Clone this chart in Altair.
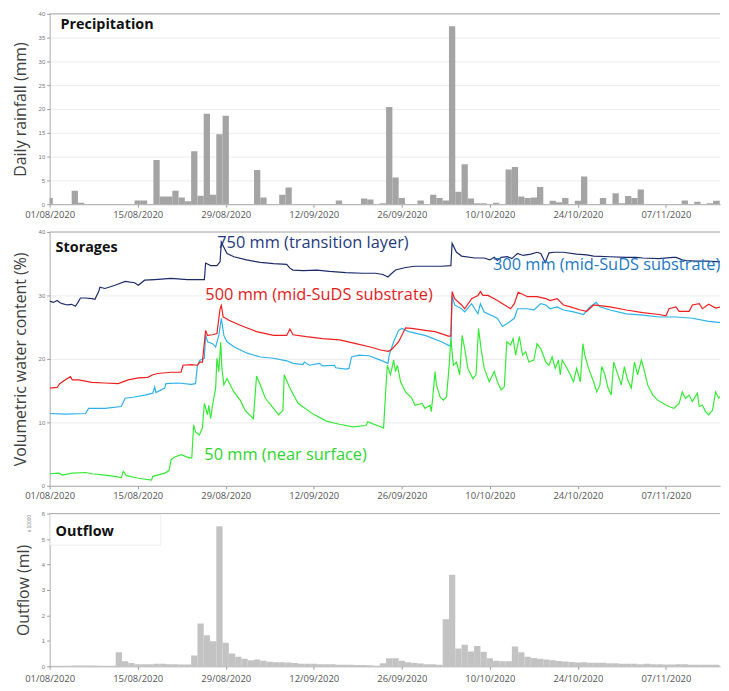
import altair as alt
import pandas as pd

DAY = 86400000
START = int(pd.Timestamp("2020-08-01", tz="UTC").value // 10**6)
END_DAY = 106.6

# ---------------- data ----------------
precip_day = [0, 4, 5, 14, 15, 17, 18, 19, 20, 21, 22, 23, 24, 25, 26, 27, 28, 33, 34, 37, 38,
              46, 50, 51, 53, 54, 55, 56, 59, 61, 62, 63, 64, 65, 66, 67, 68, 69, 71, 73, 74,
              75, 76, 77, 78, 80, 81, 82, 84, 85, 88, 90, 91, 92, 93, 94, 101, 103, 105, 106, 107]
precip_mm = [1.3, 2.8, 0.3, 0.8, 0.8, 9.3, 1.6, 1.6, 2.8, 1.4, 0.6, 11.1, 1.8, 19.0, 2.0, 14.7, 18.6, 7.2, 1.4, 2.0, 3.5,
             0.8, 1.2, 1.0, 0.2, 20.4, 5.6, 1.3, 0.8, 2.0, 1.3, 0.8, 37.4, 2.6, 8.4, 1.2, 0.2, 0.2, 0.3, 7.3, 7.8,
             1.6, 1.3, 1.4, 3.6, 0.7, 0.4, 1.3, 0.7, 5.8, 1.3, 2.3, 0.2, 1.7, 1.3, 3.1, 0.8, 0.5, 0.2, 0.7, 0.7]

outflow_day = list(range(0, 107))
outflow_x10000 = [0.02, 0.02, 0.02, 0.02, 0.03, 0.03, 0.03, 0.03, 0.02, 0.02, 0.02, 0.55, 0.20, 0.13, 0.08,
                  0.08, 0.08, 0.10, 0.10, 0.08, 0.08, 0.07, 0.07, 0.42, 1.68, 1.22, 0.98, 5.50, 0.93, 0.50,
                  0.38, 0.30, 0.24, 0.27, 0.22, 0.18, 0.16, 0.16, 0.15, 0.13, 0.10, 0.10, 0.10, 0.08, 0.08,
                  0.08, 0.06, 0.06, 0.06, 0.05, 0.05, 0.04, 0.02, 0.12, 0.32, 0.32, 0.22, 0.16, 0.13, 0.11,
                  0.08, 0.08, 0.06, 1.85, 3.60, 0.70, 0.85, 0.58, 0.80, 0.57, 0.32, 0.22, 0.20, 0.20, 0.78,
                  0.55, 0.38, 0.33, 0.30, 0.27, 0.24, 0.21, 0.19, 0.17, 0.15, 0.16, 0.14, 0.14, 0.14, 0.12,
                  0.12, 0.10, 0.10, 0.10, 0.08, 0.10, 0.08, 0.08, 0.07, 0.07, 0.08, 0.08, 0.06, 0.06, 0.06,
                  0.06, 0.06]

vwc750_day = [0, 0.6, 1.2, 1.6, 2.0, 2.8, 3.5, 4.1, 4.5, 4.9, 5.7, 6.7, 7.2, 7.8, 8.0, 8.8, 10.4, 12.0, 13.5,
              14.1, 15.1, 16.7, 19.3, 21.9, 24.6, 24.7, 24.8, 25.6, 26.6, 27.1, 27.3, 27.7, 28.2, 29.3, 31.3,
              33.5, 35.6, 37.7, 38.2, 38.7, 40.3, 42.5, 44.5, 47.1, 49.7, 51.8, 53.0, 53.8, 54.2, 55.0, 56.6,
              58.1, 59.7, 62.3, 63.8, 64.0, 64.7, 65.5, 67.6, 69.1, 70.0, 70.7, 71.2, 71.8, 72.8, 73.5, 74.4,
              75.3, 76.5, 77.5, 78.1, 78.8, 79.4, 80.2, 81.7, 83.8, 85.4, 86.5, 89.1, 91.7, 93.3, 94.3, 96.9,
              99.1, 99.6, 100.6, 101.2, 102.7, 104.5, 106.8]
vwc750 = [29.1, 28.9, 29.2, 28.9, 28.7, 28.5, 28.6, 28.3, 28.9, 29.6, 29.6, 29.5, 29.4, 30.6, 31.3, 31.1, 31.6, 32.2, 32.0,
          31.6, 32.4, 32.5, 32.7, 32.5, 32.5, 33.7, 35.1, 34.7, 34.7, 35.3, 38.4, 37.6, 36.6, 36.1, 35.6,
          35.2, 35.0, 34.9, 34.3, 34.0, 33.9, 34.0, 33.8, 33.6, 33.5, 33.5, 33.3, 32.9, 33.3, 34.0, 34.4,
          34.6, 34.6, 34.6, 34.7, 38.2, 36.8, 36.2, 35.9, 35.9, 35.6, 36.0, 35.5, 36.0, 36.1, 35.8, 36.6,
          36.3, 36.5, 36.8, 36.6, 35.2, 36.7, 36.8, 36.8, 36.5, 36.4, 36.2, 36.1, 36.0, 36.0, 35.9, 35.8,
          36.0, 36.0, 35.6, 35.5, 35.4, 35.4, 35.3]

vwc500_day = [0, 1.2, 1.6, 2.5, 3.3, 3.6, 4.6, 6.7, 8.8, 10.9, 12.5, 14.1, 15.6, 16.4, 17.2, 19.3, 20.9, 21.2,
              22.5, 23.5, 23.9, 24.3, 24.4, 24.8, 25.1, 25.9, 26.6, 27.1, 27.3, 27.6, 28.0, 28.5, 30.3, 32.9,
              35.6, 37.7, 38.2, 38.7, 40.8, 43.4, 46.1, 48.7, 51.3, 52.6, 53.9, 54.5, 55.5, 56.6, 57.6, 59.7,
              61.3, 63.4, 63.8, 64.0, 64.4, 65.5, 66.0, 67.1, 68.1, 68.5, 68.9, 69.7, 71.2, 72.8, 73.3, 73.9,
              74.5, 76.0, 77.5, 78.9, 79.6, 80.7, 81.7, 82.8, 84.4, 85.4, 86.5, 87.5, 89.1, 91.7, 94.3, 96.9,
              98.0, 98.5, 99.6, 100.1, 101.7, 102.2, 103.3, 103.8, 104.8, 105.9, 106.8]
vwc500 = [15.4, 15.5, 16.1, 16.7, 17.2, 16.7, 16.7, 16.3, 16.2, 16.1, 16.7, 17.0, 17.1, 17.5, 17.7, 17.9, 17.9, 19.0,
          19.1, 19.0, 19.5, 19.5, 20.6, 24.5, 23.7, 23.8, 24.0, 27.9, 28.4, 26.6, 26.4, 26.1, 25.3, 24.3,
          23.7, 23.7, 24.7, 23.8, 23.5, 23.2, 23.0, 22.4, 21.8, 21.4, 21.2, 21.6, 22.7, 24.9, 24.8, 24.5,
          24.3, 23.6, 23.6, 30.6, 29.5, 28.5, 27.9, 29.5, 30.0, 30.6, 30.0, 30.0, 29.2, 28.2, 27.9, 28.7,
          30.5, 29.8, 29.8, 29.5, 29.2, 29.5, 28.5, 28.2, 27.7, 27.5, 28.5, 28.4, 28.2, 27.7, 27.3, 27.0,
          26.8, 27.9, 28.2, 27.5, 27.5, 28.5, 28.7, 27.9, 28.6, 28.0, 28.2]

vwc300_day = [0, 2.5, 5.7, 6.2, 8.8, 11.4, 12.0, 13.5, 15.1, 16.4, 16.7, 16.9, 18.3, 18.5, 20.4, 22.5, 23.2,
              23.5, 23.9, 24.6, 24.8, 25.1, 25.9, 26.4, 26.9, 27.3, 27.7, 28.2, 29.3, 31.4, 33.5, 35.6, 37.7,
              38.7, 40.3, 40.5, 41.3, 42.9, 43.4, 45.3, 45.5, 47.1, 47.6, 48.0, 49.2, 50.8, 52.6, 53.8, 54.0,
              54.7, 55.5, 56.0, 57.1, 59.7, 62.3, 63.5, 63.8, 64.0, 64.4, 65.5, 66.0, 67.1, 68.1, 68.5, 69.1,
              71.2, 72.0, 72.8, 73.9, 74.4, 76.0, 77.0, 78.1, 78.9, 79.6, 80.7, 81.7, 83.3, 84.9, 85.9, 86.9,
              87.5, 89.1, 91.7, 94.3, 96.9, 99.6, 102.2, 104.8, 106.8]
vwc300 = [11.4, 11.3, 11.4, 12.2, 12.2, 12.5, 13.8, 14.0, 14.3, 14.6, 15.6, 14.7, 15.4, 16.1, 16.2, 16.0, 16.1,
          19.0, 19.8, 20.1, 23.8, 22.7, 22.4, 21.9, 23.7, 26.4, 23.7, 22.7, 21.9, 20.9, 20.3, 20.1, 19.7,
          19.3, 19.1, 19.5, 19.0, 19.3, 18.9, 19.0, 18.6, 18.4, 18.5, 20.3, 20.6, 20.5, 19.8, 19.3, 20.6,
          22.7, 24.5, 24.8, 24.3, 23.7, 22.7, 22.1, 22.2, 30.0, 28.5, 27.9, 27.4, 28.7, 27.1, 28.7, 27.4,
          26.4, 25.1, 25.6, 26.4, 27.9, 27.9, 27.7, 28.7, 28.5, 27.9, 28.2, 27.7, 27.4, 27.0, 28.2, 28.9,
          28.2, 27.7, 27.1, 26.9, 26.6, 26.6, 26.4, 25.9, 25.7]

vwc50_day = [0, 1.5, 2.0, 3.6, 5.7, 6.7, 8.8, 10.4, 11.4, 11.7, 12.2, 14.1, 16.2, 16.4, 18.3, 19.0, 19.3, 19.8,
             20.9, 22.2, 22.6, 22.9, 23.2, 23.8, 24.3, 24.6, 25.1, 25.3, 25.6, 25.9, 26.4, 26.6, 26.9, 27.2,
             27.4, 27.7, 28.2, 29.3, 30.3, 31.1, 32.4, 32.9, 33.5, 34.3, 35.6, 36.4, 37.1, 37.3, 38.2, 39.5,
             41.9, 44.0, 46.1, 48.2, 50.3, 50.6, 51.3, 52.6, 53.1, 53.4, 53.7, 54.2, 54.7, 55.0, 55.3, 55.8,
             56.6, 57.6, 58.1, 59.2, 59.7, 60.5, 60.7, 61.3, 61.5, 62.1, 62.6, 63.1, 63.5, 63.8, 64.2, 64.7,
             65.2, 65.6, 66.0, 66.5, 67.3, 67.8, 68.2, 68.6, 69.1, 69.9, 70.7, 71.2, 71.8, 72.3, 72.7, 73.3,
             73.7, 74.1, 74.7, 75.2, 75.7, 76.2, 77.0, 77.5, 78.1, 78.9, 79.4, 79.9, 80.4, 80.9, 81.2, 81.5,
             82.0, 82.8, 83.3, 83.8, 84.4, 84.8, 85.1, 85.7, 86.5, 87.0, 87.5, 87.8, 88.3, 88.8, 89.3, 89.7,
             90.2, 90.9, 91.4, 91.9, 92.5, 93.0, 93.5, 94.1, 94.6, 95.1, 95.9, 96.7, 97.5, 98.5, 99.3, 100.1,
             100.6, 101.1, 101.7, 102.2, 103.0, 103.3, 103.8, 104.3, 104.8, 105.4, 105.9, 106.4, 106.8]
vwc50 = [1.9, 2.0, 1.7, 2.0, 2.1, 1.9, 1.7, 1.5, 1.3, 2.3, 1.6, 1.2, 0.9, 1.5, 2.0, 2.4, 4.1, 4.5,
         4.9, 4.4, 4.4, 9.6, 8.5, 8.0, 9.1, 13.0, 11.2, 12.7, 10.6, 12.7, 15.4, 20.1, 18.0, 22.6,
         18.5, 15.9, 16.9, 14.8, 13.5, 11.9, 10.6, 17.3, 15.9, 13.8, 12.2, 11.2, 11.9, 17.5, 15.4, 13.0,
         11.3, 10.2, 9.7, 9.3, 9.5, 10.1, 9.8, 9.3, 9.1, 14.3, 19.0, 17.5, 19.8, 18.0, 19.0, 16.4,
         14.8, 13.8, 12.7, 13.0, 12.2, 12.7, 11.7, 18.0, 15.9, 14.0, 13.5, 14.0, 18.5, 23.2, 19.0, 19.5,
         17.5, 23.7, 21.6, 18.5, 16.9, 17.5, 24.8, 21.6, 18.5, 16.4, 18.0, 16.4, 15.1, 15.6, 22.7, 22.2,
         23.2, 20.6, 23.5, 20.6, 21.1, 19.5, 19.8, 22.4, 21.6, 19.5, 19.0, 20.3, 18.5, 19.8, 17.5, 19.8,
         19.0, 17.5, 16.4, 18.5, 16.4, 22.4, 20.6, 18.5, 16.4, 14.8, 15.9, 18.8, 17.5, 15.4, 14.3, 19.5,
         18.0, 15.9, 18.8, 16.7, 15.4, 19.5, 17.5, 19.8, 18.0, 15.9, 14.3, 13.5, 13.0, 12.5, 12.2, 13.0,
         14.8, 13.8, 14.3, 13.3, 14.6, 12.5, 12.7, 11.7, 11.2, 11.9, 14.8, 13.8, 14.3]

series_names = ["750 mm", "300 mm", "500 mm", "50 mm"]
series_colors = ["#1d2b6c", "#2cb2ec", "#f01e1e", "#35ea35"]

tick_days = [0, 14, 28, 42, 56, 70, 84, 98]
precip_ticks = [0, 5, 10, 15, 20, 25, 30, 35, 40]
vwc_ticks = [0, 10, 20, 30, 40]
outflow_ticks = [0, 1, 2, 3, 4, 5, 6]

# ---------------- frames ----------------
def ms(d):
    return START + d * DAY

precip_df = pd.DataFrame({
    "t0": [ms(d - 0.5) for d in precip_day],
    "t1": [ms(d + 0.5) for d in precip_day],
    "mm": precip_mm,
})
outflow_df = pd.DataFrame({
    "t0": [ms(d - 0.5) for d in outflow_day],
    "t1": [ms(d + 0.5) for d in outflow_day],
    "q": outflow_x10000,
})
rows = []
for name, days, vals in [("750 mm", vwc750_day, vwc750), ("300 mm", vwc300_day, vwc300),
                         ("500 mm", vwc500_day, vwc500), ("50 mm", vwc50_day, vwc50)]:
    for d, v in zip(days, vals):
        rows.append({"series": name, "t": ms(d), "vwc": v})
vwc_df = pd.DataFrame(rows)

W = 676
FONT = "Open Sans"
xscale = alt.Scale(type="utc", domain=[ms(0), ms(END_DAY)])
tick_vals = [ms(d) for d in tick_days]


def xaxis(pad=2):
    return alt.Axis(values=tick_vals, format="%d/%m/%Y", title=None, grid=False,
                    labelFontSize=9.5, labelColor="#555555", labelFont=FONT, labelPadding=pad,
                    tickSize=3, tickColor="#999999", domainColor="#aaaaaa", labelFlush=False)


def yaxis(title, vals, grid=True):
    return alt.Axis(title=title, values=vals, labelFontSize=6, labelColor="#777777",
                    tickSize=3, tickColor="#999999", domainColor="#aaaaaa", grid=grid,
                    gridColor="#ececec", titleFontSize=16, titleFont=FONT, titleColor="#404040",
                    titleFontWeight="normal", titlePadding=10, labelPadding=2,
                    labelOverlap=False)


def panel_title(text, x, y):
    return alt.Chart(pd.DataFrame({"t": [text]})).mark_text(
        align="left", baseline="middle", fontSize=14.5, fontWeight="bold", font=FONT, color="#111111"
    ).encode(x=alt.value(x), y=alt.value(y), text="t:N")


def top_rule(v, scale, axis):
    return alt.Chart(pd.DataFrame({"v": [v]})).mark_rule(color="#aaaaaa", strokeWidth=1).encode(
        y=alt.Y("v:Q", scale=scale, axis=axis))


# ---------------- precipitation ----------------
p_scale = alt.Scale(domain=[0, 40])
p_axis = yaxis("Daily rainfall (mm)", precip_ticks)
p_bars = alt.Chart(precip_df).mark_bar(color="#a4a4a4", clip=True).encode(
    x=alt.X("t0:T", scale=xscale, axis=xaxis()),
    x2="t1:T",
    y=alt.Y("mm:Q", scale=p_scale, axis=p_axis),
    y2=alt.datum(0),
)
precip = alt.layer(p_bars, top_rule(40, p_scale, p_axis),
                   panel_title("Precipitation", 11, 11)).properties(width=W, height=192)

# ---------------- storages ----------------
s_scale = alt.Scale(domain=[0, 40])
s_axis = yaxis("Volumetric water content (%)", vwc_ticks)
lines = alt.Chart(vwc_df).mark_line(strokeWidth=1.2, clip=True).encode(
    x=alt.X("t:T", scale=xscale, axis=xaxis()),
    y=alt.Y("vwc:Q", scale=s_scale, axis=s_axis),
    color=alt.Color("series:N", scale=alt.Scale(domain=series_names, range=series_colors), legend=None),
    detail="series:N",
)
label_df = pd.DataFrame({
    "txt": ["750 mm (transition layer)", "300 mm (mid-SuDS substrate)",
            "500 mm (mid-SuDS substrate)", "50 mm (near surface)"],
    "px": [169, 447, 157, 156],
    "py": [11, 33, 64, 225],
    "col": ["#1f3a80", "#1b78c6", "#e01c1c", "#2ed42e"],
})
labels = alt.Chart(label_df).mark_text(align="left", baseline="middle", fontSize=16.5, font=FONT).encode(
    x=alt.X("px:Q", scale=None), y=alt.Y("py:Q", scale=None), text="txt:N",
    color=alt.Color("col:N", scale=None),
)
storages = alt.layer(lines, top_rule(40, s_scale, s_axis), labels,
                     panel_title("Storages", 6, 16)).properties(width=W, height=256)

# ---------------- outflow ----------------
o_scale = alt.Scale(domain=[0, 6])
o_axis = yaxis("Outflow (ml)", outflow_ticks, grid=False)
o_bars = alt.Chart(outflow_df).mark_bar(color="#c3c3c3", clip=True).encode(
    x=alt.X("t0:T", scale=xscale, axis=xaxis(pad=4)),
    x2="t1:T",
    y=alt.Y("q:Q", scale=o_scale, axis=o_axis),
    y2=alt.datum(0),
)
box = alt.Chart(pd.DataFrame({"a": [0]})).mark_rect(fill="white", stroke="#f0f0f0", strokeWidth=1).encode(
    x=alt.value(1), x2=alt.value(112), y=alt.value(1), y2=alt.value(32))
mult = alt.Chart(pd.DataFrame({"t": ["x 10000"]})).mark_text(
    angle=270, fontSize=5, color="#777777", align="center", baseline="middle"
).encode(x=alt.value(-21), y=alt.value(10), text="t:N")
outflow = alt.layer(o_bars, top_rule(6, o_scale, o_axis), box, panel_title("Outflow", 6, 19),
                    mult).properties(width=W, height=154)

chart = alt.vconcat(precip, storages, outflow, spacing=10).properties(
    padding={"left": 4, "top": 0, "right": 0, "bottom": 0}
).configure_view(stroke=None)

chart.save("out.html", embed_options={"renderer": "svg", "actions": False})
